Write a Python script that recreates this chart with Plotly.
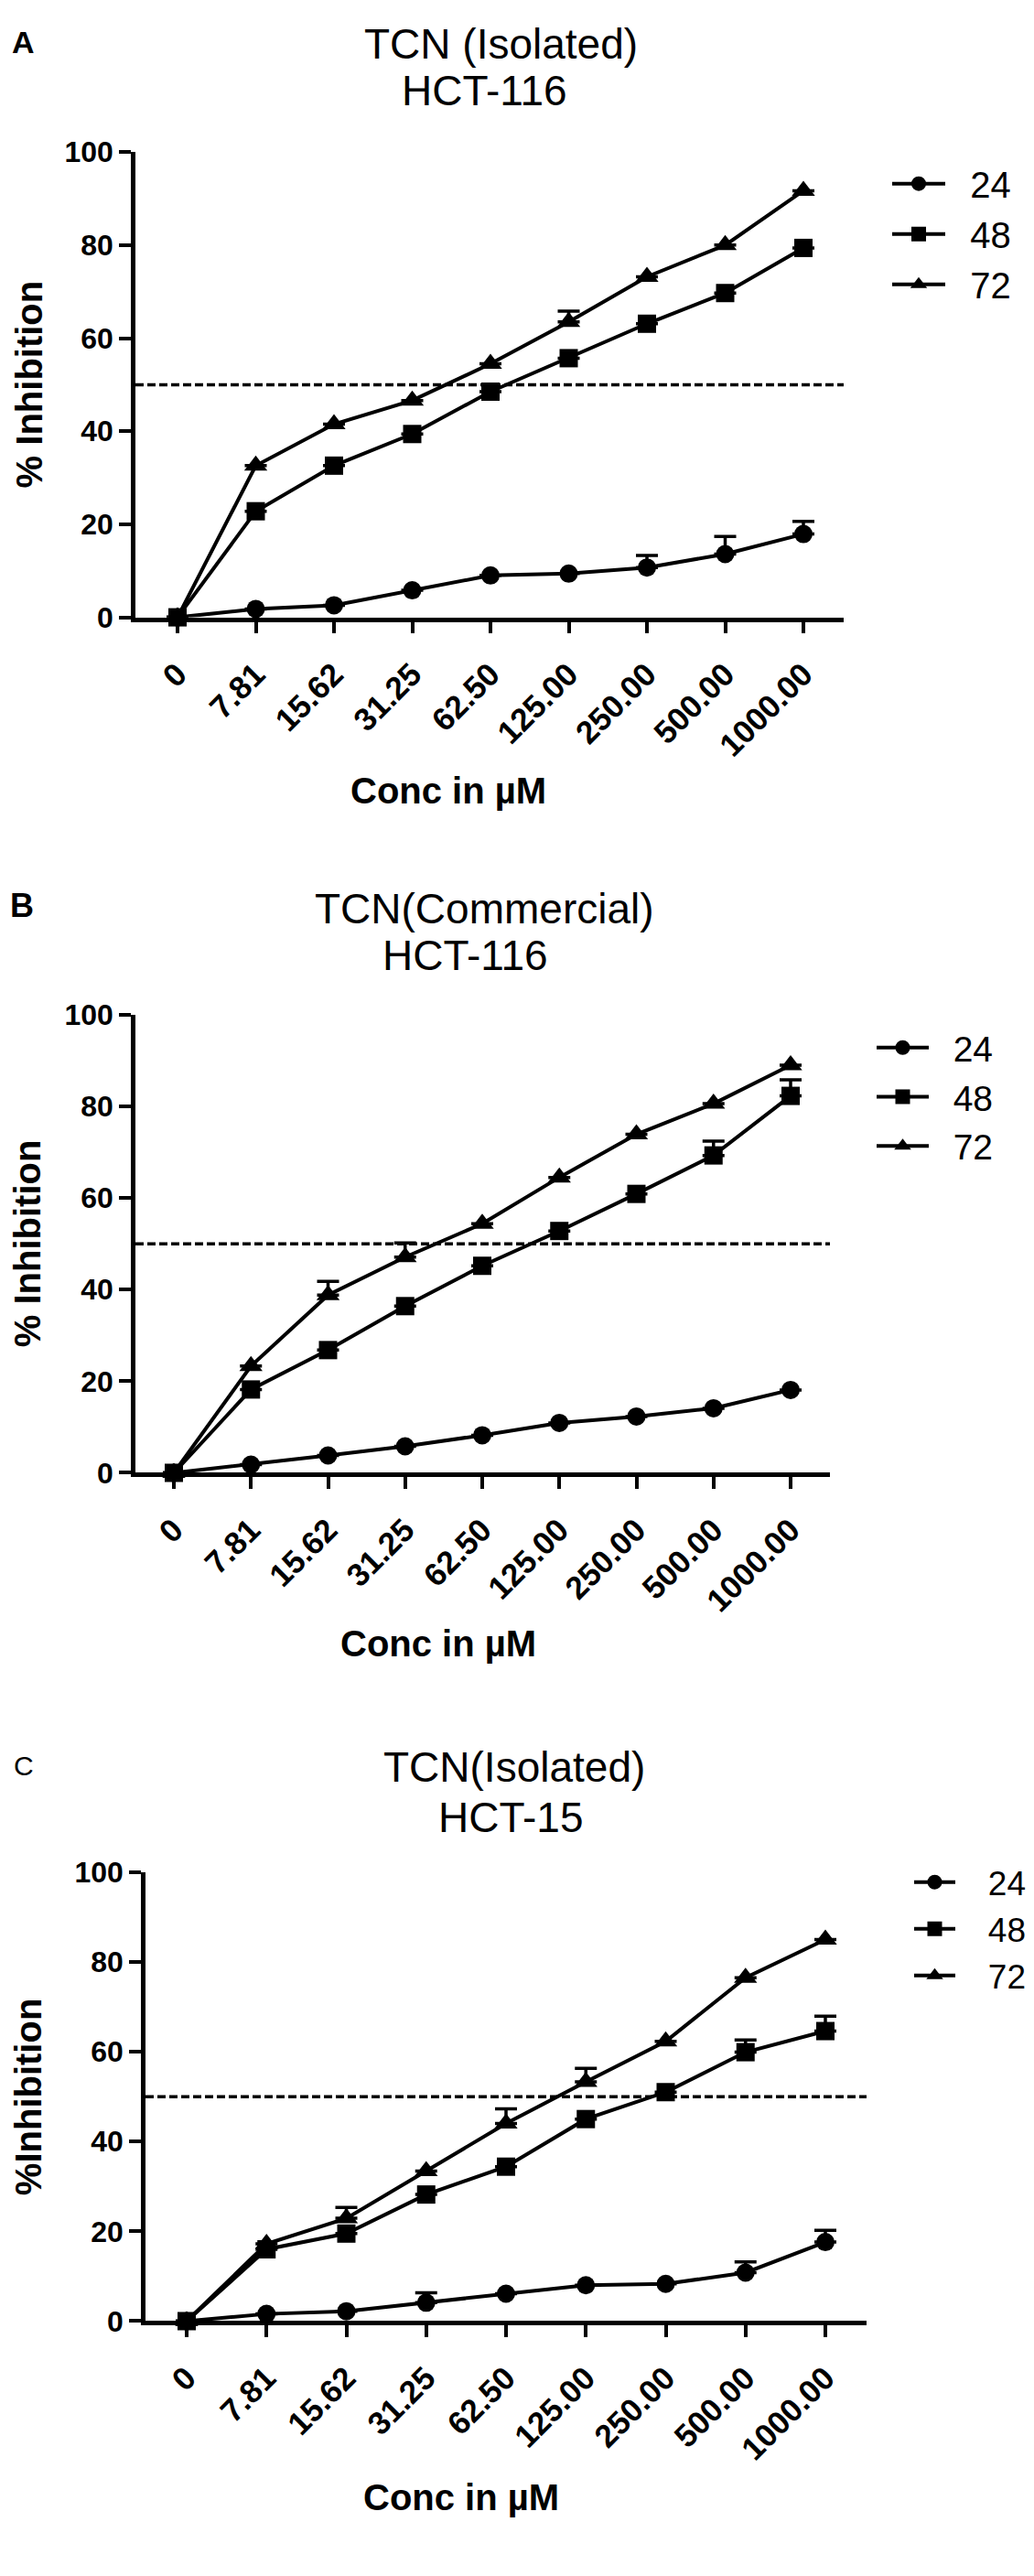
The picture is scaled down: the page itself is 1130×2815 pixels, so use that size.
import plotly.graph_objects as go

# x categories (µM)
conc = ["0", "7.81", "15.62", "31.25", "62.50", "125.00", "250.00", "500.00", "1000.00"]
hours = ["24", "48", "72"]

# panel A - TCN (Isolated), HCT-116
a_24 = [0, 1.8, 2.6, 5.8, 9.0, 9.4, 10.7, 13.6, 17.9]
a_24_err = [0, 0, 0, 0, 0, 0, 2.6, 3.8, 2.7]
a_48 = [0, 22.8, 32.6, 39.4, 48.5, 55.7, 63.1, 69.7, 79.4]
a_48_err = [0, 0, 0, 0, 0, 0, 0, 0, 0]
a_72 = [0, 32.6, 41.5, 46.6, 54.5, 63.5, 73.2, 80.0, 91.7]
a_72_err = [0, 0, 0, 0, 0, 2.3, 0, 0, 0]

# panel B - TCN (Commercial), HCT-116
b_24 = [0, 1.8, 3.8, 5.8, 8.2, 10.9, 12.3, 14.1, 18.1]
b_24_err = [0, 0, 0, 0, 0, 0, 0, 0, 0]
b_48 = [0, 18.2, 26.8, 36.4, 45.2, 52.8, 60.9, 69.3, 82.3]
b_48_err = [0, 0, 0, 0, 0, 0, 0, 3.1, 3.5]
b_72 = [0, 23.3, 38.8, 47.1, 54.4, 64.5, 73.9, 80.6, 89.0]
b_72_err = [0, 0, 3.0, 3.1, 0, 0, 0, 0, 0]

# panel C - TCN (Isolated), HCT-15
c_24 = [0, 1.6, 2.2, 4.1, 6.1, 8.0, 8.3, 10.8, 17.6]
c_24_err = [0, 0, 0, 2.2, 0, 0, 0, 2.4, 2.6]
c_48 = [0, 16.0, 19.5, 28.2, 34.4, 45.0, 51.0, 59.9, 64.6]
c_48_err = [0, 0, 0, 0, 0, 0, 0, 2.7, 3.3]
c_72 = [0, 17.2, 22.9, 33.4, 44.0, 53.3, 62.3, 76.5, 85.0]
c_72_err = [0, 0, 2.4, 0, 3.3, 3.0, 0, 0, 0]

W, H = 1130, 2815
FONT = "Liberation Sans, Arial, sans-serif"
symbols = {"24": "circle", "48": "square", "72": "triangle-up"}
msize = {"24": 20, "48": 20, "72": 22}


def fx(p):
    return p / W


def fy(p):
    return 1 - p / H


panels = [
    dict(label="A", label_bold=True, label_pos=(17, 20), label_size=34,
         t1="TCN (Isolated)", t1_pos=(539, 22), t2="HCT-116", t2_pos=(521, 74),
         ytitle="% Inhibition", ytitle_x=24, xtitle_pos=(482, 849),
         vals={"24": a_24, "48": a_48, "72": a_72},
         errs={"24": a_24_err, "48": a_48_err, "72": a_72_err},
         geo=(140, 914, 186, 870, 657, 142),
         leg=dict(x=962, top=144, item=58, pad=2, size=40)),
    dict(label="B", label_bold=True, label_pos=(16, 976), label_size=36,
         t1="TCN(Commercial)", t1_pos=(521, 980), t2="HCT-116", t2_pos=(500, 1031),
         ytitle="% Inhibition", ytitle_x=22, xtitle_pos=(471, 1793),
         vals={"24": b_24, "48": b_48, "72": b_72},
         errs={"24": b_24_err, "48": b_48_err, "72": b_72_err},
         geo=(140, 899, 182, 856, 1604, 1097),
         leg=dict(x=945, top=1101, item=57, pad=2, size=39)),
    dict(label="C", label_bold=False, label_pos=(18, 1928), label_size=30,
         t1="TCN(Isolated)", t1_pos=(554, 1930), t2="HCT-15", t2_pos=(550, 1985),
         ytitle="%Inhibition", ytitle_x=23, xtitle_pos=(496, 2738),
         vals={"24": c_24, "48": c_48, "72": c_72},
         errs={"24": c_24_err, "48": c_48_err, "72": c_72_err},
         geo=(151, 939, 196, 894, 2543, 2046),
         leg=dict(x=986, top=2026, item=45, pad=3, size=37)),
]

fig = go.Figure()
annotations = []
shapes = []
layout = {}


def add_text(text, pos, size, bold, angle=0):
    annotations.append(dict(text=text, x=fx(pos[0]), y=fy(pos[1]),
                            xref="paper", yref="paper", showarrow=False,
                            xanchor="center", yanchor="middle", textangle=angle,
                            font=dict(family=FONT, size=size, color="black",
                                      weight="bold" if bold else "normal")))


for i, p in enumerate(panels):
    n = "" if i == 0 else str(i + 1)
    lg = p["leg"]
    for h in hours:
        fig.add_trace(go.Scatter(
            x=conc, y=p["vals"][h], name="\u00a0" * lg["pad"] + h,
            mode="lines+markers",
            xaxis="x" + n, yaxis="y" + n, legend="legend" + n,
            cliponaxis=False,
            line=dict(color="black", width=4),
            marker=dict(symbol=symbols[h], size=msize[h], color="black"),
            error_y=dict(type="data", symmetric=False, array=p["errs"][h],
                         arrayminus=[0] * len(conc), color="black",
                         thickness=3.5, width=12),
        ))

    xl, xr, x0, x8, y0, y100 = p["geo"]
    unit = (x8 - x0) / 8
    axis_style = dict(showline=True, linecolor="black", linewidth=4.5,
                      ticks="outside", ticklen=13, tickwidth=4, tickcolor="black",
                      showgrid=False, zeroline=False)
    layout["xaxis" + n] = dict(axis_style, domain=[fx(xl), fx(xr)], anchor="y" + n,
                               type="category", tickangle=-45, ticklabelstandoff=10,
                               tickfont=dict(family=FONT, size=35, color="black",
                                             weight="bold"),
                               range=[-(x0 - xl) / unit, 8 + (xr - x8) / unit])
    layout["yaxis" + n] = dict(axis_style, domain=[fy(y0), fy(y100)],
                               anchor="x" + n, range=[0, 100],
                               tickvals=[0, 20, 40, 60, 80, 100],
                               tickfont=dict(family=FONT, size=32, color="black",
                                             weight="bold"))
    layout["legend" + n] = dict(x=fx(lg["x"]), y=fy(lg["top"]),
                                xanchor="left", yanchor="top", itemwidth=lg["item"],
                                bgcolor="rgba(0,0,0,0)",
                                font=dict(family=FONT, size=lg["size"], color="black"))

    # 50% reference line
    shapes.append(dict(type="line", xref="x" + n + " domain", yref="y" + n,
                       x0=0, x1=1, y0=50, y1=50,
                       line=dict(color="black", width=3.5, dash="9px,4px")))

    add_text(p["label"], p["label_pos"], p["label_size"], p["label_bold"])
    add_text(p["t1"], p["t1_pos"], 46, False)
    add_text(p["t2"], p["t2_pos"], 46, False)
    add_text("Conc in µM", p["xtitle_pos"], 40, True)
    add_text(p["ytitle"], (p["ytitle_x"], (y0 + y100) / 2), 40, True, angle=-90)

fig.update_layout(
    width=W, height=H, autosize=False,
    margin=dict(l=0, r=0, t=0, b=0),
    paper_bgcolor="white", plot_bgcolor="white",
    showlegend=True, annotations=annotations, shapes=shapes,
    **layout,
)

fig.write_html("out.html")
